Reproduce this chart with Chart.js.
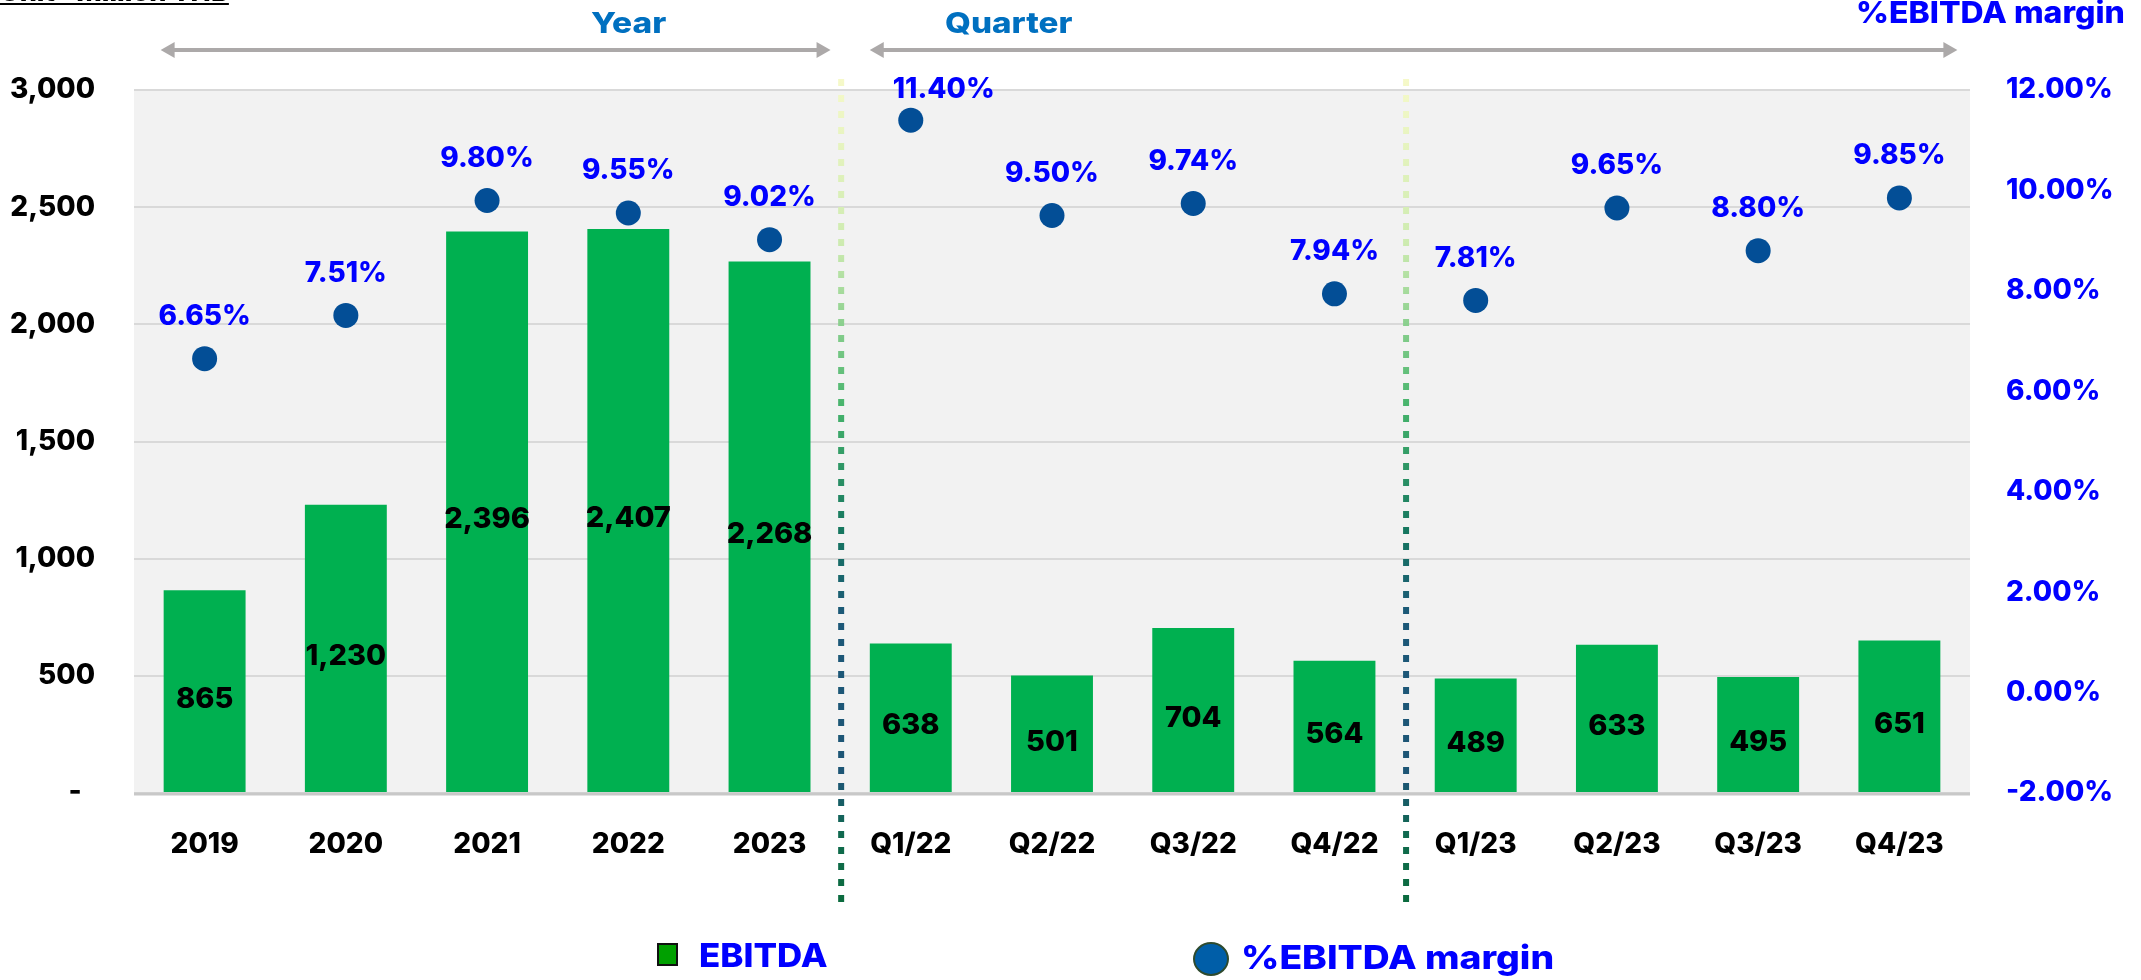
<!DOCTYPE html>
<html>
<head>
<meta charset="utf-8">
<script src="https://cdn.jsdelivr.net/npm/chart.js@4.4.1/dist/chart.umd.min.js"></script>
<style>
  body { margin: 0; background: #fff; }
  #wrap { position: relative; width: 2141px; height: 980px; overflow: hidden; }
  #c { position: absolute; left: 0; top: 0; }
  .t { position: absolute; white-space: nowrap; font-family: Inter, "Noto Sans", sans-serif; font-weight: 800; transform-origin: 0 50%; line-height: 1; }
</style>
</head>
<body>
<div id="wrap">
  <canvas id="c" width="2141" height="980"></canvas>
  <div class="t" id="unit" style="text-decoration: underline; color:#000; font-size:26px;">Unit : Million THB</div>
  <div class="t" id="year" style="color:#0070C0; font-size:29px;">Year</div>
  <div class="t" id="quarter" style="color:#0070C0; font-size:29px;">Quarter</div>
  <div class="t" id="rtitle" style="color:#0000FF; font-size:30px;">%EBITDA margin</div>
  <div class="t" id="lg1" style="color:#0000FF; font-size:33px;">EBITDA</div>
  <div class="t" id="lg2" style="color:#0000FF; font-size:33px;">%EBITDA margin</div>
  <div id="sq" style="position:absolute; left:657px; top:943px; width:17px; height:19px; background:#00A000; border:2px solid #111;"></div>
  <div id="dot" style="position:absolute; left:1193px; top:942px; width:32px; height:30px; border-radius:50%; background:#005EA8; border:2px solid #2E4A2E;"></div>
</div>
<script>
// Datos del gráfico
const categories = ['2019', '2020', '2021', '2022', '2023', 'Q1/22', 'Q2/22', 'Q3/22', 'Q4/22', 'Q1/23', 'Q2/23', 'Q3/23', 'Q4/23'];
const ebitda = [865, 1230, 2396, 2407, 2268, 638, 501, 704, 564, 489, 633, 495, 651];
const margin = [6.65, 7.51, 9.80, 9.55, 9.02, 11.40, 9.50, 9.74, 7.94, 7.81, 9.65, 8.80, 9.85];
const groupNames = ['Year', 'Quarter'];

const FONT = 'Inter, "Noto Sans", sans-serif';
const W = '800';

// Colocar textos HTML: izquierda, ancho deseado, centro vertical
function place(id, left, width, centerY) {
    const el = document.getElementById(id);
    const w = el.offsetWidth, h = el.offsetHeight;
    el.style.left = left + 'px';
    el.style.top = (centerY - h / 2) + 'px';
    el.style.transform = 'scaleX(' + (width / w) + ')';
}

// Fondo gris del área de trazado y línea base
const plotBg = {
    id: 'plotBg',
    beforeDraw(chart) {
        const a = chart.chartArea, ctx = chart.ctx;
        ctx.save();
        ctx.fillStyle = '#F2F2F2';
        ctx.fillRect(a.left, a.top, a.right - a.left, a.bottom - a.top);
        ctx.restore();
    },
    beforeDatasetsDraw(chart) {
        const a = chart.chartArea, ctx = chart.ctx;
        ctx.save();
        ctx.strokeStyle = '#C8C8C8';
        ctx.lineWidth = 3;
        ctx.beginPath();
        ctx.moveTo(a.left, a.bottom + 1);
        ctx.lineTo(a.right, a.bottom + 1);
        ctx.stroke();
        ctx.restore();
    }
};

// Etiquetas de valores, separadores y flechas
const extras = {
    id: 'extras',
    afterDatasetsDraw(chart) {
        const ctx = chart.ctx;
        ctx.save();
        ctx.textAlign = 'center';
        ctx.textBaseline = 'middle';
        // etiquetas de barras
        ctx.font = W + ' 29px ' + FONT;
        ctx.fillStyle = '#000';
        chart.getDatasetMeta(1).data.forEach((bar, i) => {
            ctx.fillText(ebitda[i].toLocaleString('en-US'), bar.x, (bar.y + bar.base) / 2 + 8);
        });
        // etiquetas de puntos (la de 11.40% va desplazada como en el original)
        ctx.font = W + ' 28px ' + FONT;
        ctx.fillStyle = '#0000FF';
        chart.getDatasetMeta(0).data.forEach((pt, i) => {
            const top = pt.y - 43 < chart.chartArea.top + 10;
            const dx = top ? 33 : 0, dy = top ? 31 : 42;
            ctx.fillText(margin[i].toFixed(2) + '%', pt.x + dx, pt.y - dy);
        });
        ctx.restore();
    },
    afterDraw(chart) {
        const ctx = chart.ctx, x = chart.scales.x, a = chart.chartArea;
        ctx.save();
        // guion del cero en el eje izquierdo (formato contable)
        ctx.font = W + ' 28px ' + FONT;
        ctx.fillStyle = '#000';
        ctx.textAlign = 'center';
        ctx.textBaseline = 'middle';
        ctx.fillText('-', 75, chart.scales.y.getPixelForValue(0) - 1);
        // líneas punteadas verticales
        const top = a.top - 11, bottom = a.bottom + 110;
        const g = ctx.createLinearGradient(0, top, 0, bottom);
        g.addColorStop(0, '#F6F9C9');
        g.addColorStop(0.2, '#CDEBB0');
        g.addColorStop(0.4, '#45B36B');
        g.addColorStop(0.55, '#15765F');
        g.addColorStop(0.65, '#1C5878');
        g.addColorStop(0.85, '#1D5575');
        g.addColorStop(0.92, '#0F6A4D');
        g.addColorStop(1, '#0B6B3E');
        ctx.strokeStyle = g;
        ctx.lineWidth = 6;
        ctx.setLineDash([7, 9]);
        [4.5, 8.5].forEach(v => {
            const px = (x.getPixelForValue(Math.floor(v)) + x.getPixelForValue(Math.ceil(v))) / 2 + 1;
            ctx.beginPath();
            ctx.moveTo(px, top);
            ctx.lineTo(px, bottom);
            ctx.stroke();
        });
        ctx.setLineDash([]);
        // flechas Year / Quarter
        const arrows = [
            [x.getPixelForValue(0) - 44, x.getPixelForValue(4) + 61],
            [x.getPixelForValue(5) - 41, x.getPixelForValue(12) + 58]
        ];
        const ay = 50;
        ctx.strokeStyle = '#ACA9A9';
        ctx.fillStyle = '#ACA9A9';
        ctx.lineWidth = 4;
        arrows.forEach(([x0, x1]) => {
            ctx.beginPath();
            ctx.moveTo(x0 + 10, ay);
            ctx.lineTo(x1 - 10, ay);
            ctx.stroke();
            ctx.beginPath();
            ctx.moveTo(x0, ay); ctx.lineTo(x0 + 14, ay - 8); ctx.lineTo(x0 + 14, ay + 8); ctx.closePath();
            ctx.fill();
            ctx.beginPath();
            ctx.moveTo(x1, ay); ctx.lineTo(x1 - 14, ay - 8); ctx.lineTo(x1 - 14, ay + 8); ctx.closePath();
            ctx.fill();
        });
        ctx.restore();
    }
};

function build() {
    new Chart(document.getElementById('c').getContext('2d'), {
        type: 'bar',
        data: {
            labels: categories,
            datasets: [{
                type: 'line',
                label: '%EBITDA margin',
                data: margin,
                yAxisID: 'y1',
                showLine: false,
                pointRadius: 12.5,
                pointBackgroundColor: '#034E96',
                pointBorderColor: '#034E96',
                pointBorderWidth: 0,
                order: 1
            }, {
                label: 'EBITDA',
                data: ebitda,
                yAxisID: 'y',
                backgroundColor: '#00B050',
                borderWidth: 0,
                categoryPercentage: 1,
                barPercentage: 0.58,
                order: 2
            }]
        },
        options: {
            responsive: false,
            devicePixelRatio: 1,
            animation: false,
            layout: { padding: { top: 90, left: 0, right: 0, bottom: 0 } },
            plugins: { legend: { display: false }, tooltip: { enabled: false } },
            scales: {
                x: {
                    grid: { display: false, drawTicks: false },
                    border: { display: false },
                    ticks: { color: '#000', font: { family: FONT, size: 28, weight: W }, padding: 35, maxRotation: 0 },
                    afterFit(s) { s.height = 187; }
                },
                y: {
                    position: 'left',
                    min: 0, max: 3000,
                    grid: { color: '#D9D9D9', lineWidth: 2, drawTicks: false },
                    border: { display: false },
                    ticks: {
                        stepSize: 500,
                        color: '#000',
                        font: { family: FONT, size: 28, weight: W },
                        padding: 39,
                        callback: v => v === 0 ? '' : v.toLocaleString('en-US')
                    },
                    afterFit(s) { s.width = 134; }
                },
                y1: {
                    position: 'right',
                    min: -2, max: 12,
                    grid: { display: false, drawTicks: false },
                    border: { display: false },
                    ticks: {
                        stepSize: 2,
                        color: '#0000FF',
                        font: { family: FONT, size: 28, weight: W },
                        padding: 36,
                        callback: v => v.toFixed(2) + '%'
                    },
                    afterFit(s) { s.width = 171; }
                }
            }
        },
        plugins: [plotBg, extras]
    });

    place('unit', 0, 229, -8);
    place('year', 591, 75, 22);
    place('quarter', 945, 127, 22);
    place('rtitle', 1856, 269, 12);
    place('lg1', 699, 129, 955);
    place('lg2', 1241, 313, 957);
}

document.fonts.load('800 28px Inter').then(build, build);
</script>
</body>
</html>
